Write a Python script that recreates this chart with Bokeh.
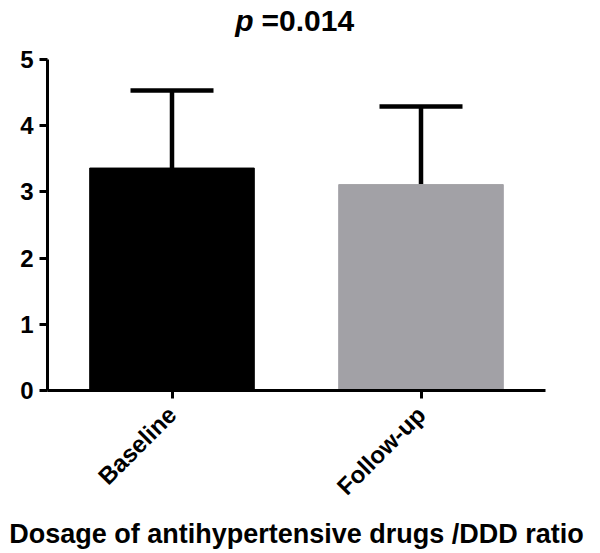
import math
from bokeh.plotting import figure
from bokeh.models import ColumnDataSource, Whisker, TeeHead, Range1d, FixedTicker
from bokeh.core.properties import value
from bokeh.embed import file_html
from bokeh.resources import INLINE

categories = ["Baseline", "Follow-up"]
means = [3.36, 3.11]
sds = [1.17, 1.18]
colors = ["#000000", "#a2a1a6"]
title_p = "p"
title_rest = "=0.014"
x_title = "Dosage of antihypertensive drugs /DDD ratio"
y_ticks = [0, 1, 2, 3, 4, 5]

FONT = "Liberation Sans"
Y_MAX = 5
Y_TOP = 5.891          # extra room above the axis for the title
TITLE_Y = 5.59

src = ColumnDataSource(dict(
    cat=categories, mean=means,
    upper=[m + s for m, s in zip(means, sds)],
    color=colors,
))

p = figure(x_range=categories, width=600, height=553, output_backend="svg",
           toolbar_location=None, min_border_left=47, min_border_top=0,
           min_border_right=55, min_border_bottom=163)
p.y_range = Range1d(0, Y_TOP)

p.vbar(x="cat", top="mean", width=0.661, source=src, fill_color="color",
       line_color="color", line_width=1)

w = Whisker(base="cat", upper="upper", lower="mean", source=src, dimension="height",
            line_color="black", line_width=4.5,
            upper_head=TeeHead(size=83, line_color="black", line_width=4.5),
            lower_head=None)
p.add_layout(w)

# Title (italic p + bold value), centred over the plot
p.text(x=[1.0], y=[TITLE_Y], text=[title_p], text_font=value(FONT),
       text_font_style="bold italic", text_font_size="30px", text_align="right",
       text_baseline="alphabetic", x_offset=-43, text_color="black")
p.text(x=[1.0], y=[TITLE_Y], text=[title_rest], text_font=value(FONT),
       text_font_style="bold", text_font_size="30px", text_align="left",
       text_baseline="alphabetic", x_offset=-35, text_color="black")

p.xgrid.visible = False
p.ygrid.visible = False
p.outline_line_color = None

for ax in (p.xaxis[0], p.yaxis[0]):
    ax.axis_line_width = 3
    ax.axis_line_color = "black"
    ax.major_tick_line_width = 3
    ax.major_tick_line_color = "black"
    ax.major_tick_out = 8
    ax.major_tick_in = 0
    ax.minor_tick_line_color = None
    ax.major_label_text_font = FONT
    ax.major_label_text_font_style = "bold"
    ax.major_label_text_color = "black"

p.yaxis.ticker = FixedTicker(ticks=y_ticks)
p.yaxis.bounds = (0, Y_MAX)
p.yaxis.major_label_text_font_size = "24px"
p.yaxis.major_label_standoff = 6

p.xaxis.major_label_orientation = math.pi / 4
p.xaxis.major_label_text_font_size = "24px"
p.xaxis.major_label_standoff = 12
p.xaxis.axis_label = x_title
p.xaxis.axis_label_text_font = FONT
p.xaxis.axis_label_text_font_style = "bold"
p.xaxis.axis_label_text_font_size = "27px"
p.xaxis.axis_label_text_color = "black"
p.xaxis.axis_label_standoff = 6

open("out.html", "w").write(file_html(p, INLINE))
